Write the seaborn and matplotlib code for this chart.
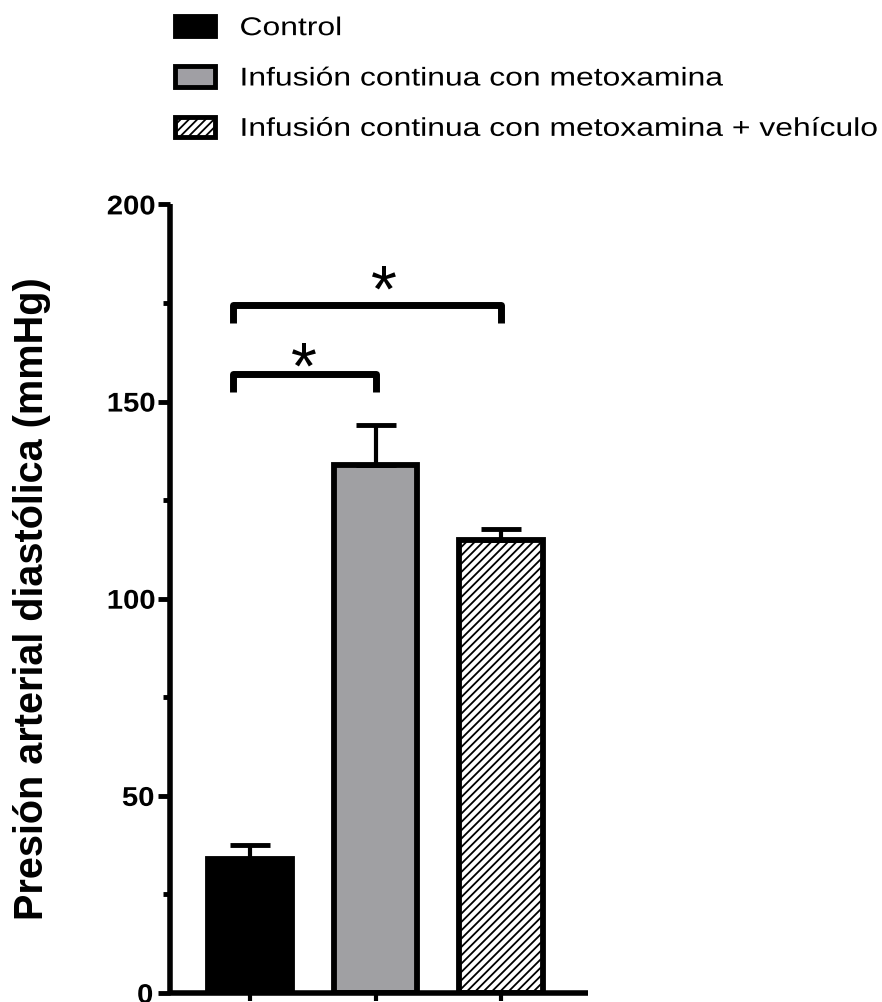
import matplotlib
matplotlib.use("Agg")
import matplotlib.pyplot as plt
from matplotlib.patches import Patch
from matplotlib.patheffects import AbstractPathEffect
from matplotlib.transforms import Affine2D
import seaborn as sns
import pandas as pd

# Group means and SEM (mmHg)
groups = ["Control", "Infusión continua con metoxamina",
          "Infusión continua con metoxamina + vehículo"]
means = [34, 134, 115]
sems = [3.5, 10, 2.8]

# Significance brackets: (left group, right group, bracket height, leg drop)
brackets = [(0, 1, 157, 4.5), (0, 2, 174.5, 4.5)]
# Asterisk positions (x in group units, y = text baseline in mmHg)
star_x = [0.424, 1.064]
star_y = [153.4, 172.9]
sig_label = "*"


class WideText(AbstractPathEffect):
    """Draw text glyphs widened horizontally about the text origin."""

    def __init__(self, sx=1.0):
        super().__init__()
        self.sx = sx

    def draw_path(self, renderer, gc, tpath, affine, rgbFace=None):
        renderer.draw_path(gc, tpath, Affine2D().scale(self.sx, 1.0) + affine,
                           rgbFace)


sns.set_theme(style="ticks")
plt.rcParams["font.family"] = ["Liberation Sans", "DejaVu Sans"]
plt.rcParams.update({
    "axes.edgecolor": "black", "xtick.color": "black", "ytick.color": "black",
    "text.color": "black", "axes.labelcolor": "black",
    "hatch.color": "#7a7a7a", "hatch.linewidth": 1.3,
})

fills = ["#000000", "#a09fa4", "#ffffff"]
hatches = [None, None, "////"]

df = pd.DataFrame({"grupo": groups, "valor": means})

fig = plt.figure(figsize=(8.82, 10.02), dpi=100)
ax = fig.add_axes([0.193, 0.009, 0.474, 0.787])

sns.barplot(data=df, x="grupo", y="valor", hue="grupo", palette=fills,
            order=groups, hue_order=groups, width=0.67, dodge=False,
            legend=False, edgecolor="black", linewidth=4.2, ax=ax)

for patch, h in zip(ax.patches, hatches):
    if h:
        patch.set_hatch(h)

# Upper-only error bars
ax.errorbar(range(len(groups)), means, yerr=[[0] * len(groups), sems],
            fmt="none", ecolor="black", elinewidth=3, capsize=14.5,
            capthick=3.5, zorder=1)

ax.set_ylim(0, 200)
ax.set_xlim(-0.64, 2.70)
ax.set_yticks([0, 50, 100, 150, 200])
ax.set_yticks([25, 75, 125, 175], minor=True)
ax.tick_params(axis="y", which="major", length=9, width=3.5, labelsize=19.5, pad=4)
ax.tick_params(axis="y", which="minor", length=5, width=3.5)
ax.tick_params(axis="x", which="major", length=6, width=3, labelbottom=False)
for lab in ax.get_yticklabels():
    lab.set_fontweight("bold")
    lab.set_path_effects([WideText(1.08)])

for side in ["top", "right"]:
    ax.spines[side].set_visible(False)
for side in ["left", "bottom"]:
    ax.spines[side].set_linewidth(4)
    ax.spines[side].set_capstyle("butt")

ax.set_xlabel("")
ax.set_ylabel("Presión arterial diastólica (mmHg)", fontsize=28.5,
              fontweight="bold", labelpad=40)

for a, b, y, drop in brackets:
    xa, xb = a - 0.14, b
    ax.plot([xa, xa, xb, xb], [y - drop, y, y, y - drop], color="black",
            lw=5, solid_joinstyle="round", solid_capstyle="butt", clip_on=False)
for sx, sy in zip(star_x, star_y):
    ax.text(sx, sy, sig_label, ha="center", va="baseline", fontsize=48,
            color="black")

handles = [Patch(facecolor=f, edgecolor="black", linewidth=3.5, hatch=h)
           for f, h in zip(fills, hatches)]
leg = fig.legend(handles, groups, loc="upper left",
                 bbox_to_anchor=(175 / 882, 1 - 16 / 1002),
                 frameon=False, fontsize=18.5, handlelength=1.56,
                 handleheight=0.85, handletextpad=0.95, labelspacing=1.02,
                 borderpad=0, borderaxespad=0)
for t in leg.get_texts():
    t.set_path_effects([WideText(1.24)])

fig.savefig("out.png", dpi=100)
